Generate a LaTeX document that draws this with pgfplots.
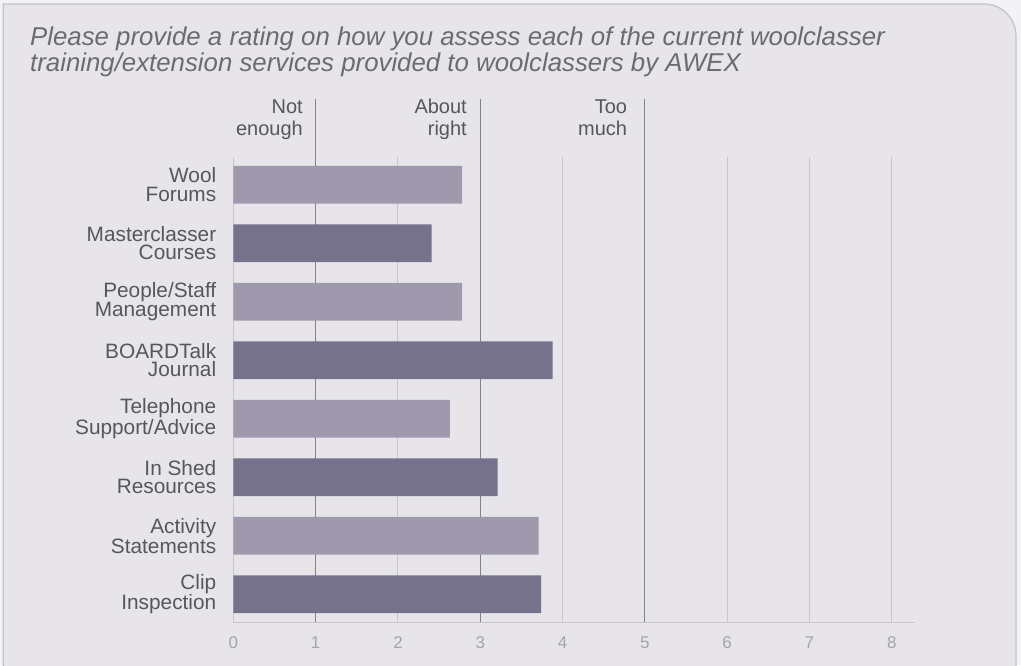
\documentclass[border=0pt]{standalone}
\usepackage{pgfplots}
\pgfplotsset{compat=1.18}
\usepackage{fontspec}
\setmainfont{Liberation Sans}
\definecolor{panelbg}{HTML}{E7E5EA}
\definecolor{panelborder}{HTML}{C4C2C8}
\definecolor{outer}{HTML}{F3F2F5}
\definecolor{barlight}{HTML}{9E99AD}
\definecolor{bardark}{HTML}{77728C}
\definecolor{labelgray}{HTML}{57575B}
\definecolor{titlegray}{HTML}{6B6B70}
\definecolor{gridlight}{HTML}{C8C6CC}
\definecolor{griddark}{HTML}{828287}
\definecolor{tickgray}{HTML}{A5A4A9}
\begin{document}
\begin{tikzpicture}[x=1pt,y=1pt]
\path[use as bounding box] (0,0) rectangle (1021,665);
\clip (0,0) rectangle (1021,665);
\fill[outer] (0,0) rectangle (1021,665);
\filldraw[fill=panelbg, draw=panelborder, line width=1.2pt] (3.3,-10) -- (3.3,661) -- (984,661) arc[start angle=90,end angle=0,radius=32] -- (1016,-10) -- cycle;
\node[anchor=base west, inner sep=0pt, text=titlegray, font=\fontsize{25.8}{26}\selectfont\itshape] at (30,619) {Please provide a rating on how you assess each of the current woolclasser};
\node[anchor=base west, inner sep=0pt, text=titlegray, font=\fontsize{25.8}{26}\selectfont\itshape] at (30,593.3) {training/extension services provided to woolclassers by AWEX};
\begin{axis}[
  at={(233.4pt,43pt)}, anchor=south west, scale only axis,
  width=681.4pt, height=465pt,
  xmin=0, xmax=8.28, ymin=-0.475, ymax=7.475,
  clip=false,
  axis line style={draw=none}, tick style={draw=none},
  major tick length=0pt,
  xbar, bar width=0.648, bar shift=0pt,
  xtick={0,...,8}, ytick={0,...,7},
  xmajorgrids, major grid style={gridlight, line width=1pt},
  /pgf/number format/assume math mode=true,
  xticklabel style={font=\fontsize{17}{20}\selectfont, text=tickgray, inner sep=0pt, anchor=base, yshift=-26pt},
  yticklabels={{Clip\\Inspection},{Activity\\Statements},{In Shed\\Resources},{Telephone\\Support/Advice},{BOARDTalk\\Journal},{People/Staff\\Management},{Masterclasser\\Courses},{Wool\\Forums}},
  yticklabel style={font=\fontsize{20.8}{18.5}\selectfont, text=labelgray, align=right, inner sep=0pt, anchor=east, xshift=-17pt},
]
\draw[gridlight, line width=1pt] (axis cs:0,-0.475) -- (axis cs:8.28,-0.475);
\draw[griddark, line width=1.2pt] (axis cs:1,-0.475) -- (axis cs:1,8.467);
\draw[griddark, line width=1.2pt] (axis cs:3,-0.475) -- (axis cs:3,8.467);
\draw[griddark, line width=1.2pt] (axis cs:5,-0.475) -- (axis cs:5,8.467);
\addplot[draw=none, fill=barlight] coordinates {(2.78,7) (2.78,5) (2.63,3) (3.71,1)};
\addplot[draw=none, fill=bardark] coordinates {(2.41,6) (3.88,4) (3.21,2) (3.74,0)};
\end{axis}
\begin{scope}[every node/.style={anchor=base east, inner sep=0pt, text=labelgray, font=\fontsize{20}{22}\selectfont}]
\node at (303,551) {Not};
\node at (303,529.3) {enough};
\node at (467,551) {About};
\node at (467,529.3) {right};
\node at (627.3,551) {Too};
\node at (627.3,529.3) {much};
\end{scope}
\end{tikzpicture}
\end{document}
